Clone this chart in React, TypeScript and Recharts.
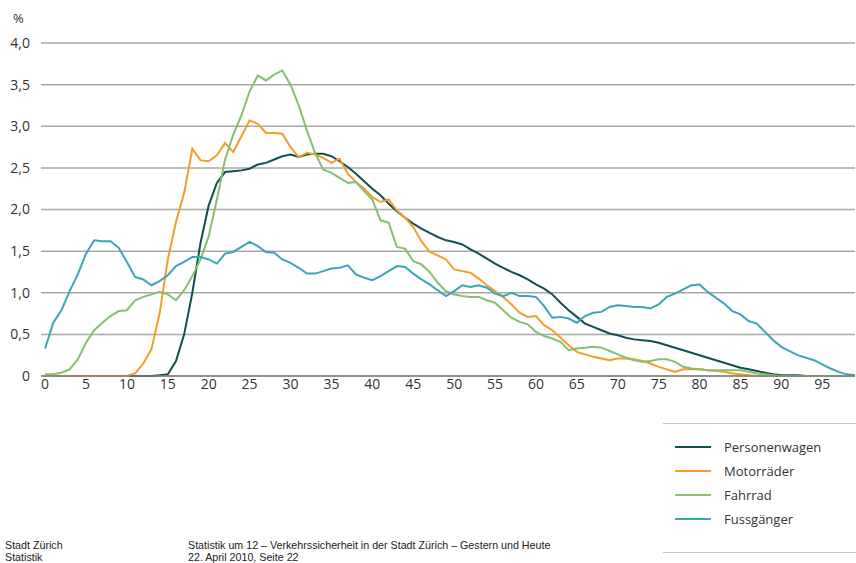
import { CartesianGrid, Line, LineChart, XAxis, YAxis } from "recharts";

// Alter 0..99
const ages = Array.from({ length: 100 }, (_, i) => i);

const personenwagen = [
  0, 0, 0, 0, 0, 0, 0, 0, 0, 0,
  0, 0, 0, 0, 0.01, 0.02, 0.18, 0.5, 1.0, 1.6,
  2.05, 2.32, 2.45, 2.46, 2.47, 2.49, 2.54, 2.56, 2.6, 2.64,
  2.66, 2.63, 2.66, 2.67, 2.67, 2.64, 2.58, 2.51, 2.43, 2.34,
  2.25, 2.17, 2.07, 1.98, 1.9, 1.83, 1.77, 1.72, 1.67, 1.63,
  1.61, 1.58, 1.52, 1.47, 1.41, 1.35, 1.3, 1.25, 1.21, 1.16,
  1.1, 1.05, 0.98, 0.88, 0.79, 0.71, 0.63, 0.59, 0.55, 0.51,
  0.49, 0.46, 0.44, 0.43, 0.42, 0.4, 0.37, 0.34, 0.31, 0.28,
  0.25, 0.22, 0.19, 0.16, 0.13, 0.1, 0.08, 0.06, 0.04, 0.02,
  0.01, 0.01, 0.01, 0, 0, 0, 0, 0, 0, 0,
];

const motorraeder = [
  0, 0, 0, 0, 0, 0, 0, 0, 0, 0,
  0, 0.03, 0.15, 0.32, 0.75, 1.4, 1.85, 2.2, 2.73, 2.59,
  2.58, 2.65, 2.8, 2.69, 2.88, 3.07, 3.03, 2.92, 2.92, 2.91,
  2.75, 2.63, 2.68, 2.66, 2.62, 2.56, 2.61, 2.43, 2.33, 2.25,
  2.15, 2.09, 2.12, 1.99, 1.9, 1.79, 1.62, 1.49, 1.45, 1.4,
  1.28, 1.26, 1.24, 1.17, 1.09, 1.02, 0.95, 0.86, 0.76, 0.71,
  0.72, 0.61, 0.55, 0.46, 0.37, 0.29, 0.26, 0.23, 0.21, 0.19,
  0.21, 0.21, 0.2, 0.18, 0.15, 0.11, 0.08, 0.05, 0.08, 0.08,
  0.08, 0.07, 0.06, 0.05, 0.03, 0.02, 0.01, 0, 0, 0,
  0, 0, 0, 0, 0, 0, 0, 0, 0, 0,
];

const fahrrad = [
  0.02, 0.02, 0.04, 0.08, 0.2, 0.4, 0.55, 0.64, 0.72, 0.78,
  0.79, 0.91, 0.95, 0.98, 1.01, 0.98, 0.91, 1.03, 1.2, 1.4,
  1.68, 2.12, 2.6, 2.9, 3.13, 3.42, 3.61, 3.55, 3.62, 3.67,
  3.5, 3.25, 2.95, 2.68, 2.48, 2.44, 2.38, 2.32, 2.33, 2.22,
  2.12, 1.87, 1.84, 1.55, 1.53, 1.38, 1.34, 1.25, 1.12, 1.02,
  0.98, 0.96, 0.95, 0.95, 0.91, 0.88, 0.79, 0.7, 0.65, 0.62,
  0.53, 0.48, 0.45, 0.41, 0.31, 0.33, 0.34, 0.35, 0.34, 0.3,
  0.26, 0.22, 0.19, 0.17, 0.18, 0.2, 0.2, 0.17, 0.11, 0.09,
  0.08, 0.07, 0.07, 0.07, 0.07, 0.07, 0.05, 0.03, 0.02, 0.01,
  0, 0, 0, 0, 0, 0, 0, 0, 0, 0,
];

const fussgaenger = [
  0.33, 0.64, 0.79, 1.02, 1.22, 1.47, 1.63, 1.62, 1.62, 1.54,
  1.37, 1.19, 1.16, 1.09, 1.14, 1.21, 1.32, 1.37, 1.43, 1.43,
  1.4, 1.35, 1.47, 1.49, 1.55, 1.61, 1.56, 1.49, 1.48, 1.4,
  1.36, 1.3, 1.23, 1.23, 1.26, 1.29, 1.3, 1.33, 1.22, 1.18,
  1.15, 1.2, 1.26, 1.32, 1.31, 1.23, 1.16, 1.1, 1.03, 0.96,
  1.02, 1.09, 1.07, 1.09, 1.06, 0.99, 0.96, 1.0, 0.96, 0.96,
  0.95, 0.84, 0.7, 0.71, 0.69, 0.64, 0.72, 0.76, 0.77, 0.83,
  0.85, 0.84, 0.83, 0.83, 0.81, 0.86, 0.95, 0.99, 1.04, 1.09,
  1.1, 1.01, 0.94, 0.87, 0.78, 0.74, 0.66, 0.63, 0.53, 0.43,
  0.35, 0.3, 0.25, 0.22, 0.19, 0.14, 0.09, 0.05, 0.02, 0.01,
];

const xTicks = [0, 5, 10, 15, 20, 25, 30, 35, 40, 45, 50, 55, 60, 65, 70, 75, 80, 85, 90, 95];
const yTicks = [0, 0.5, 1, 1.5, 2, 2.5, 3, 3.5, 4];

const series = [
  { key: "pw", name: "Personenwagen", color: "#134f4f", values: personenwagen },
  { key: "mr", name: "Motorräder", color: "#f29d2c", values: motorraeder },
  { key: "fr", name: "Fahrrad", color: "#86bf70", values: fahrrad },
  { key: "fg", name: "Fussgänger", color: "#3aa5b8", values: fussgaenger },
];

const data = ages.map((age, i) => {
  const row: Record<string, number> = { age };
  series.forEach((s) => {
    row[s.key] = s.values[i];
  });
  return row;
});

const font = "'Open Sans', 'Noto Sans', sans-serif";
const footFont = "'Liberation Sans', Arial, sans-serif";
const fmtY = (v: number) => (v === 0 ? "0" : v.toFixed(1).replace(".", ","));

export default function App() {
  return (
    <div
      style={{
        position: "fixed",
        left: 0,
        top: 0,
        width: 856,
        height: 563,
        background: "#fff",
        fontFamily: font,
        color: "#333",
      }}
    >
      <div style={{ position: "absolute", left: 13, top: 9, fontSize: 13 }}>%</div>
      <LineChart
        width={856}
        height={400}
        data={data}
        margin={{ top: 43, right: 1, bottom: 0, left: 0 }}
      >
        <CartesianGrid vertical={false} stroke="#a8a8a8" strokeWidth={1.5} />
        <XAxis
          dataKey="age"
          type="number"
          domain={[-0.5, 99]}
          ticks={xTicks}
          allowDataOverflow
          height={24}
          tickLine={false}
          tickSize={0}
          tickMargin={3}
          axisLine={{ stroke: "#808080", strokeWidth: 1.5 }}
          tick={{ fill: "#333", fontSize: 14, fontFamily: font }}
          interval={0}
        />
        <YAxis
          domain={[0, 4]}
          ticks={yTicks}
          width={41}
          axisLine={false}
          tickLine={false}
          tickSize={0}
          tickMargin={11}
          tickFormatter={fmtY}
          tick={{ fill: "#333", fontSize: 14, fontFamily: font }}
          interval={0}
        />
        {series.map((s) => (
          <Line
            key={s.key}
            dataKey={s.key}
            name={s.name}
            stroke={s.color}
            strokeWidth={2}
            dot={false}
            type="linear"
            isAnimationActive={false}
          />
        ))}
      </LineChart>

      <div
        style={{
          position: "absolute",
          left: 663,
          top: 423,
          width: 193,
          height: 128,
          borderTop: "1px solid #c8c8c8",
          borderBottom: "1px solid #c8c8c8",
        }}
      >
        {series.map((s, i) => (
          <div
            key={s.key}
            style={{
              position: "absolute",
              left: 12,
              top: 13 + i * 24,
              height: 20,
              display: "flex",
              alignItems: "center",
              fontSize: 13,
              color: "#333",
            }}
          >
            <span
              style={{
                display: "inline-block",
                width: 36,
                height: 2.5,
                background: s.color,
                marginRight: 13,
              }}
            />
            {s.name}
          </div>
        ))}
      </div>

      <div
        style={{
          position: "absolute",
          left: 5,
          top: 539,
          fontFamily: footFont,
          fontSize: 10.7,
          lineHeight: "12px",
          color: "#222",
        }}
      >
        Stadt Zürich
        <br />
        Statistik
      </div>
      <div
        style={{
          position: "absolute",
          left: 188,
          top: 539,
          fontFamily: footFont,
          fontSize: 10.7,
          lineHeight: "12px",
          color: "#222",
        }}
      >
        Statistik um 12 – Verkehrssicherheit in der Stadt Zürich – Gestern und Heute
        <br />
        22. April 2010, Seite 22
      </div>
    </div>
  );
}
